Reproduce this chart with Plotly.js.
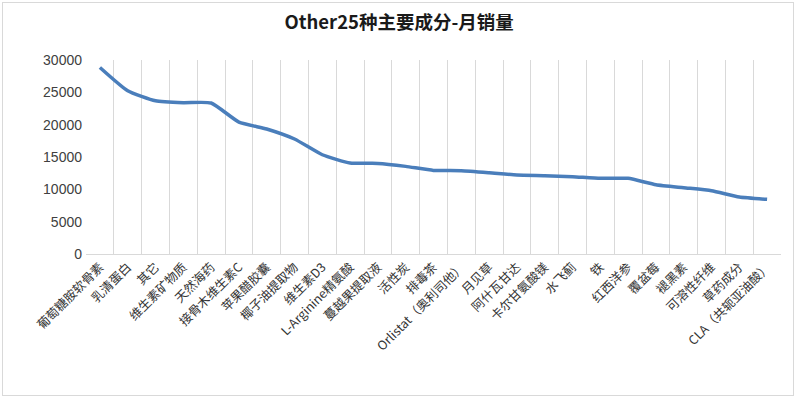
<!DOCTYPE html>
<html>
<head>
<meta charset="utf-8">
<script src="https://cdn.plot.ly/plotly-3.0.1.min.js"></script>
<style>
  html, body { margin: 0; padding: 0; background: #fff; }
  #wrap { position: relative; width: 800px; height: 401px; }
  #chart { width: 800px; height: 401px; }
  #frame { position: absolute; left: 2px; top: 2px; width: 790px; height: 392px; border: 1px solid #d9d9d9; pointer-events: none; }
</style>
</head>
<body>
<div id="wrap"><div id="chart"></div><div id="frame"></div></div>
<script>
const categories = [
  "葡萄糖胺软骨素", "乳清蛋白", "其它", "维生素矿物质", "天然海药",
  "接骨木维生素C", "苹果醋胶囊", "椰子油提取物", "维生素D3", "L-Arginine精氨酸",
  "蔓越果提取液", "活性炭", "排毒茶", "Orlistat（奥利司他）", "月见草",
  "阿什瓦甘达", "卡尔甘氨酸镁", "水飞蓟", "铁", "红西洋参",
  "覆盆莓", "褪黑素", "可溶性纤维", "草药成分", "CLA（共轭亚油酸）"
];
const monthlySales = [
  28850, 25250, 23700, 23400, 23350,
  20400, 19330, 17780, 15350, 14070,
  14010, 13550, 12930, 12880, 12570,
  12210, 12100, 11950, 11700, 11700,
  10720, 10250, 9790, 8810, 8450
];
const yTickValues = [0, 5000, 10000, 15000, 20000, 25000, 30000];
const yTickLabels = ["0", "5000", "10000", "15000", "20000", "25000", "30000"];

const trace = {
  type: "scatter",
  mode: "lines",
  x: categories,
  y: monthlySales,
  line: { color: "#4A7EBB", width: 3.5, shape: "spline", smoothing: 0.5 },
  hoverinfo: "x+y"
};

const layout = {
  width: 800,
  height: 401,
  margin: { l: 86, r: 19, t: 60, b: 147 },
  paper_bgcolor: "#ffffff",
  plot_bgcolor: "#ffffff",
  showlegend: false,
  title: {
    text: "<b>Other25种主要成分-月销量</b>",
    x: 0.499, xanchor: "center",
    y: 0.943, yanchor: "middle",
    font: { family: "Noto Sans CJK SC, Noto Sans, sans-serif", size: 18.5, color: "#1a1a1a" }
  },
  xaxis: {
    type: "category",
    range: [-0.5, categories.length - 0.5],
    tickson: "boundaries",
    showgrid: true,
    gridcolor: "#d9d9d9",
    gridwidth: 1,
    showline: true,
    linecolor: "#d9d9d9",
    linewidth: 1,
    ticks: "",
    tickangle: -45,
    tickfont: { family: "Noto Sans CJK SC, sans-serif", size: 12.5, color: "#333" },
    fixedrange: true
  },
  yaxis: {
    range: [0, 30000],
    tickvals: yTickValues,
    ticktext: yTickLabels,
    showgrid: false,
    zeroline: false,
    showline: false,
    ticks: "",
    ticklen: 0,
    ticklabelstandoff: 3,
    tickfont: { family: "Liberation Sans, Arial, sans-serif", size: 14, color: "#404040" },
    fixedrange: true
  }
};

Plotly.newPlot("chart", [trace], layout, { displayModeBar: false, staticPlot: true });
</script>
</body>
</html>
